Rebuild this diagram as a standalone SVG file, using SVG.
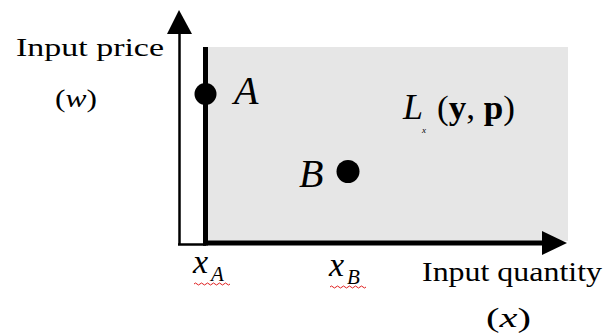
<svg xmlns="http://www.w3.org/2000/svg" width="607" height="333" viewBox="0 0 607 333">
<style>
text{font-family:'Liberation Serif',Tinos,'Times New Roman',Times,serif;fill:#000}
.i{font-style:italic}
.b{font-weight:bold}
.thin{stroke:#000;stroke-width:2.5;fill:none}
.thick{stroke:#000;stroke-width:5;fill:none}
.sq{stroke:#e02020;stroke-width:1;fill:none}
</style>
<rect width="607" height="333" fill="#fff"/>
<g id="region">
<rect x="207" y="47" width="361" height="194" fill="#e6e6e6"/>
<text x="403" y="119" font-size="36" font-style="italic">L</text>
<text class="i" x="422" y="133" font-size="9">x</text>
<text x="437" y="119" font-size="34" textLength="78" lengthAdjust="spacingAndGlyphs">(<tspan class="b">y</tspan>, <tspan class="b">p</tspan>)</text>
</g>
<g id="connectors">
<line class="thin" x1="179.5" y1="32" x2="179.5" y2="245"/>
<polygon points="179,10 192,34 167,34" fill="#000"/>
<line class="thin" x1="178" y1="244.5" x2="206" y2="244.5"/>
<line class="thick" x1="205.5" y1="47" x2="205.5" y2="245.5"/>
<line class="thick" x1="203" y1="243" x2="546" y2="243"/>
<polygon points="567,243 542,231 542,255" fill="#000"/>
</g>
<g id="axis-y-label">
<text x="16" y="56" font-size="26" textLength="148" lengthAdjust="spacingAndGlyphs">Input price</text>
<text x="55" y="107" font-size="26" textLength="42" lengthAdjust="spacingAndGlyphs">(<tspan class="i">w</tspan>)</text>
</g>
<g id="axis-x-label">
<text x="422" y="281" font-size="27" textLength="180" lengthAdjust="spacingAndGlyphs">Input quantity</text>
<text x="486" y="327" font-size="27" textLength="45" lengthAdjust="spacingAndGlyphs">(<tspan class="i">x</tspan>)</text>
</g>
<g id="point-A">
<circle cx="205.5" cy="94" r="11" fill="#000"/>
<text class="i" x="234" y="104" font-size="40">A</text>
</g>
<g id="point-B">
<circle cx="348" cy="171.5" r="11.5" fill="#000"/>
<text class="i" x="299" y="187" font-size="40">B</text>
</g>
<g id="tick-xA">
<text class="i" x="193" y="273" font-size="34">x</text>
<text class="i" x="211" y="281" font-size="21">A</text>
<path class="sq" d="M194,284 q1.5,-2 3,0 t3,0 t3,0 t3,0 t3,0 t3,0 t3,0 t3,0 t3,0 t3,0 t3,0 t3,0"/>
</g>
<g id="tick-xB">
<text class="i" x="329" y="276" font-size="34">x</text>
<text class="i" x="347" y="284" font-size="21">B</text>
<path class="sq" d="M330,287 q1.5,-2 3,0 t3,0 t3,0 t3,0 t3,0 t3,0 t3,0 t3,0 t3,0 t3,0 t3,0 t3,0"/>
</g>
</svg>
